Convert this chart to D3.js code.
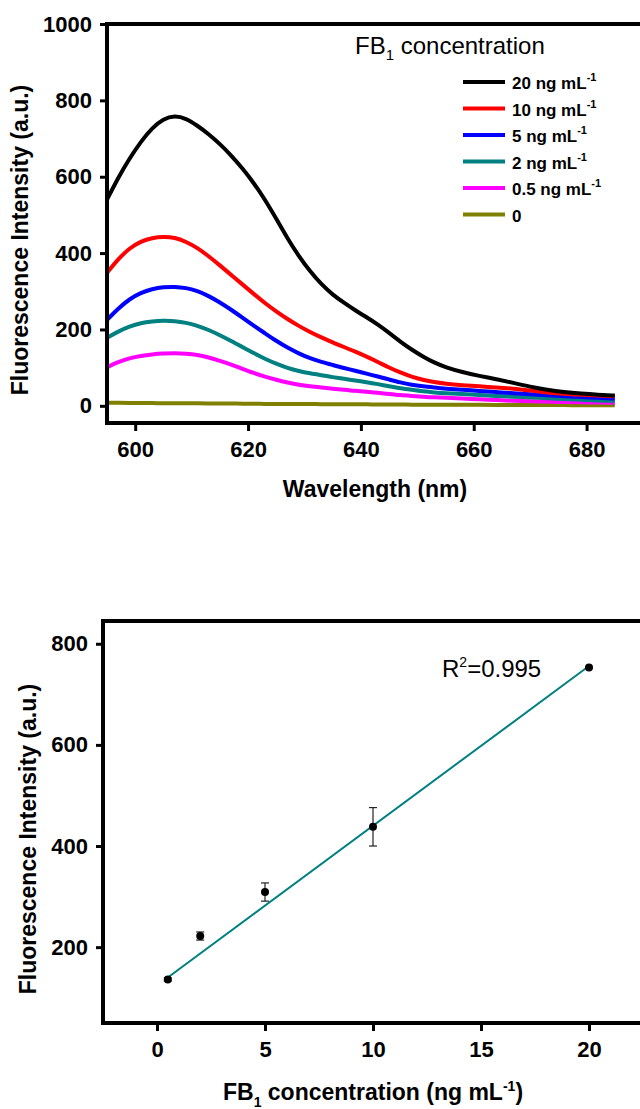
<!DOCTYPE html>
<html>
<head>
<meta charset="utf-8">
<script src="https://cdn.jsdelivr.net/npm/d3@7"></script>
<style>
body { margin: 0; background: #fff; }
text { font-family: "Liberation Sans", Arial, sans-serif; }
</style>
</head>
<body>
<svg id="chart" width="640" height="1109"></svg>
<script>
// spectra
var wavelengths = [595,597,599,601,603,605,607,609,611,613,615,617,619,621,623,625,627,629,631,633,
  635,637,639,641,643,645,647,649,651,653,655,658,661,664,667,670,673,676,679,682,685]
var s20 = [540,598,648,692,728,752,760,753,734,712,686,656,622,584,540,490,438,392,352,318,
  291,270,250,232,213,191,168,147,129,113,101,88,78,70,60,50,42,36,32,29,27]
var s10 = [348,385,413,431,440,443,441,430,414,392,368,343,318,293,269,247,227,209,193,179,
  166,154,142,129,115,100,87,76,68,62,58,54,51,48,45,40,35,31,29,27,25]
var s5 = [225,255,280,296,306,311,312,309,301,288,271,252,231,210,190,170,152,137,124,115,
  107,99,92,84,77,69,61,55,51,48,45,42,39,36,33,30,28,25,23,21,19]
var s2 = [178,195,208,217,221,223,222,218,210,199,185,170,154,138,123,110,99,91,85,80,
  75,71,66,62,57,51,46,42,38,35,33,31,28,26,24,22,20,18,16,14,13]
var s05 = [101,115,125,131,135,137,138,137,134,127,118,108,97,86,76,68,61,55,51,48,
  45,42,39,37,34,31,28,26,24,22,21,19,17,15,13,12,11,10,9,9,8]
var s0 = [8,8,7.5,7.5,7,7,7,6.5,6.5,6,6,6,5.5,5.5,5,5,5,4.5,4.5,4.5,
  4,4,4,4,3.5,3.5,3.5,3,3,3,3,2.5,2.5,2.5,2,2,2,2,1.5,1.5,1.5]

var seriesNames = ["20 ng mL", "10 ng mL", "5 ng mL", "2 ng mL", "0.5 ng mL", "0"]
var seriesColors = ["#000000", "#ff0000", "#0000ff", "#008080", "#ff00ff", "#808000"]
var seriesValues = [s20, s10, s5, s2, s05, s0]

var waveTicks = [600, 620, 640, 660, 680]
var intTicks = [0, 200, 400, 600, 800, 1000]

// calibration
var conc = [0.5, 2, 5, 10, 20]
var concIntensity = [136, 222, 309, 438, 753]
var concError = [3, 8, 18, 38, 0]
var fitLine = [[0.5, 140], [20, 756]]
var concTicks = [0, 5, 10, 15, 20]
var calTicks = [200, 400, 600, 800]

var svg = d3.select("#chart")
var font = "\"Liberation Sans\", Arial, sans-serif"

// ---------- top chart ----------
var x1 = d3.scaleLinear().domain([595, 690]).range([107, 643])
var y1 = d3.scaleLinear().domain([-45, 1000]).range([423, 24])

var g1 = svg.append("g")

var line1 = d3.line()
  .x(d => x1(d[0]))
  .y(d => y1(d[1]))
  .curve(d3.curveBasis)

seriesValues.slice().reverse().forEach(function(vals, i) {
  var k = seriesValues.length - 1 - i
  g1.append("path")
    .datum(wavelengths.map((w, j) => [w, vals[j]]))
    .attr("fill", "none")
    .attr("stroke", seriesColors[k])
    .attr("stroke-width", 4)
    .attr("d", line1)
})

function styleAxis(g, size) {
  g.select(".domain").remove()
  g.selectAll(".tick line").attr("stroke", "#000").attr("stroke-width", 3)
  g.selectAll(".tick text")
    .attr("fill", "#000")
    .style("font-family", font)
    .style("font-weight", "bold")
    .style("font-size", size + "px")
}

g1.append("g")
  .attr("transform", "translate(0,423)")
  .call(d3.axisBottom(x1).tickValues(waveTicks).tickSize(8).tickPadding(10).tickFormat(d3.format("d")))
  .call(styleAxis, 22)

g1.append("g")
  .attr("transform", "translate(107,0)")
  .call(d3.axisLeft(y1).tickValues(intTicks).tickSize(7).tickPadding(8).tickFormat(d3.format("d")))
  .call(styleAxis, 22)

g1.append("path")
  .attr("d", "M" + x1(595) + "," + y1(-45) + "V" + y1(1000) + "H" + x1(690) + "V" + y1(-45) + "Z")
  .attr("fill", "none")
  .attr("stroke", "#000")
  .attr("stroke-width", 4)

g1.append("text")
  .attr("x", 375).attr("y", 497)
  .attr("text-anchor", "middle")
  .style("font-weight", "bold").style("font-size", "23px")
  .text("Wavelength (nm)")

g1.append("text")
  .attr("transform", "translate(28,240) rotate(-90)")
  .attr("text-anchor", "middle")
  .style("font-weight", "bold").style("font-size", "23px")
  .text("Fluorescence Intensity (a.u.)")

// legend
var lt = g1.append("text").attr("x", 355).attr("y", 54).style("font-size", "24px")
lt.append("tspan").text("FB")
lt.append("tspan").attr("dy", 6).style("font-size", "15px").text("1")
lt.append("tspan").attr("dy", -6).text(" concentration")

seriesNames.forEach(function(name, i) {
  var yy = 82 + i * 26.5
  g1.append("line")
    .attr("x1", 463).attr("x2", 505).attr("y1", yy).attr("y2", yy)
    .attr("stroke", seriesColors[i]).attr("stroke-width", 4)
  var t = g1.append("text").attr("x", 512).attr("y", yy + 7)
    .style("font-weight", "bold").style("font-size", "17px")
  t.append("tspan").text(name)
  if (name !== "0") {
    t.append("tspan").attr("dy", -8).style("font-size", "11px").text("-1")
  }
})

// ---------- bottom chart ----------
var x2 = d3.scaleLinear().domain([-2.5, 22.5]).range([103, 643])
var y2 = d3.scaleLinear().domain([50, 845]).range([1023, 621])

var g2 = svg.append("g")

g2.append("line")
  .attr("x1", x2(fitLine[0][0])).attr("y1", y2(fitLine[0][1]))
  .attr("x2", x2(fitLine[1][0])).attr("y2", y2(fitLine[1][1]))
  .attr("stroke", "#008080").attr("stroke-width", 2)

var pts = conc.map((c, i) => ({c: c, v: concIntensity[i], e: concError[i]}))

var eb = g2.selectAll(".eb").data(pts.filter(d => d.e > 0)).enter().append("g")
eb.append("line")
  .attr("x1", d => x2(d.c)).attr("x2", d => x2(d.c))
  .attr("y1", d => y2(d.v - d.e)).attr("y2", d => y2(d.v + d.e))
  .attr("stroke", "#222").attr("stroke-width", 1.2)
eb.append("line")
  .attr("x1", d => x2(d.c) - 4).attr("x2", d => x2(d.c) + 4)
  .attr("y1", d => y2(d.v - d.e)).attr("y2", d => y2(d.v - d.e))
  .attr("stroke", "#222").attr("stroke-width", 1.2)
eb.append("line")
  .attr("x1", d => x2(d.c) - 4).attr("x2", d => x2(d.c) + 4)
  .attr("y1", d => y2(d.v + d.e)).attr("y2", d => y2(d.v + d.e))
  .attr("stroke", "#222").attr("stroke-width", 1.2)

g2.selectAll("circle").data(pts).enter().append("circle")
  .attr("cx", d => x2(d.c)).attr("cy", d => y2(d.v)).attr("r", 4)
  .attr("fill", "#000")

g2.append("g")
  .attr("transform", "translate(0,1023)")
  .call(d3.axisBottom(x2).tickValues(concTicks).tickSize(8).tickPadding(10))
  .call(styleAxis, 22)

g2.append("g")
  .attr("transform", "translate(103,0)")
  .call(d3.axisLeft(y2).tickValues(calTicks).tickSize(7).tickPadding(8))
  .call(styleAxis, 22)

g2.append("path")
  .attr("d", "M" + x2(-2.5) + "," + y2(50) + "V" + y2(845) + "H" + x2(22.5) + "V" + y2(50) + "Z")
  .attr("fill", "none")
  .attr("stroke", "#000")
  .attr("stroke-width", 4)

var r2 = g2.append("text").attr("x", 442).attr("y", 677).style("font-size", "24px")
r2.append("tspan").text("R")
r2.append("tspan").attr("dy", -10).style("font-size", "14px").text("2")
r2.append("tspan").attr("dy", 10).text("=0.995")

g2.append("text")
  .attr("transform", "translate(36,839) rotate(-90)")
  .attr("text-anchor", "middle")
  .style("font-weight", "bold").style("font-size", "23px")
  .text("Fluorescence Intensity (a.u.)")

var xt = g2.append("text").attr("x", 373).attr("y", 1100).attr("text-anchor", "middle")
  .style("font-weight", "bold").style("font-size", "23px")
xt.append("tspan").text("FB")
xt.append("tspan").attr("dy", 7).style("font-size", "14px").text("1")
xt.append("tspan").attr("dy", -7).text(" concentration (ng mL")
xt.append("tspan").attr("dy", -9).style("font-size", "14px").text("-1")
xt.append("tspan").attr("dy", 9).text(")")
</script>
</body>
</html>
